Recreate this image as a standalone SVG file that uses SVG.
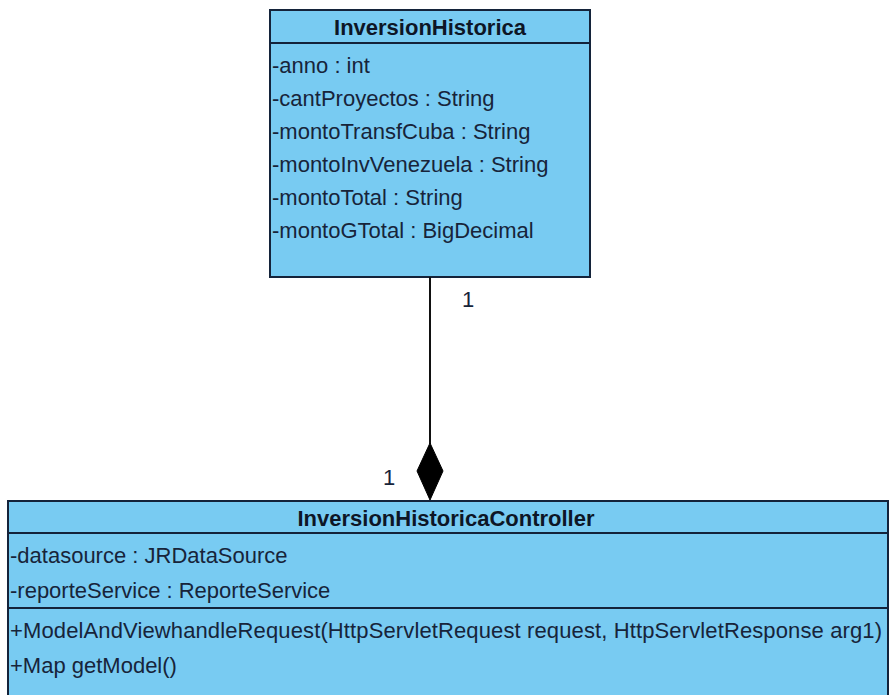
<svg xmlns="http://www.w3.org/2000/svg" width="889" height="695" viewBox="0 0 889 695">
  <style>
    .box { fill: #78cbf2; stroke: #14233a; stroke-width: 2; }
    .sep { stroke: #14233a; stroke-width: 2; }
    .txt { font-family: "Liberation Sans", Arial, sans-serif; font-size: 22px; fill: #17243a; }
    .title { font-weight: bold; text-anchor: middle; fill: #0d1626; }
    .link { stroke: #111; stroke-width: 2; fill: none; }
  </style>
  <rect width="889" height="695" fill="#ffffff"/>

  <g id="InversionHistorica">
    <rect class="box" x="270" y="10" width="320" height="267"/>
    <line class="sep" x1="270" y1="43" x2="590" y2="43"/>
    <text class="txt title" x="430" y="35">InversionHistorica</text>
    <text class="txt" x="272" y="73">-anno : int</text>
    <text class="txt" x="272" y="106">-cantProyectos : String</text>
    <text class="txt" x="272" y="139">-montoTransfCuba : String</text>
    <text class="txt" x="272" y="172">-montoInvVenezuela : String</text>
    <text class="txt" x="272" y="205">-montoTotal : String</text>
    <text class="txt" x="272" y="238">-montoGTotal : BigDecimal</text>
  </g>

  <g id="InversionHistoricaController">
    <rect class="box" x="8" y="501" width="880" height="210"/>
    <line class="sep" x1="8" y1="533" x2="888" y2="533"/>
    <line class="sep" x1="8" y1="608" x2="888" y2="608"/>
    <text class="txt title" x="446" y="526">InversionHistoricaController</text>
    <text class="txt" x="10" y="563">-datasource : JRDataSource</text>
    <text class="txt" x="10" y="598">-reporteService : ReporteService</text>
    <text class="txt" x="10" y="638" textLength="872" lengthAdjust="spacing">+ModelAndViewhandleRequest(HttpServletRequest request, HttpServletResponse arg1)</text>
    <text class="txt" x="10" y="673">+Map getModel()</text>
  </g>

  <g id="connectors">
    <line class="link" x1="430" y1="277" x2="430" y2="444"/>
    <polygon points="430,443 443,471 430,500 417,471" fill="#000" stroke="#000" stroke-width="1"/>
    <text class="txt" x="462" y="307">1</text>
    <text class="txt" x="383" y="485">1</text>
  </g>
</svg>
